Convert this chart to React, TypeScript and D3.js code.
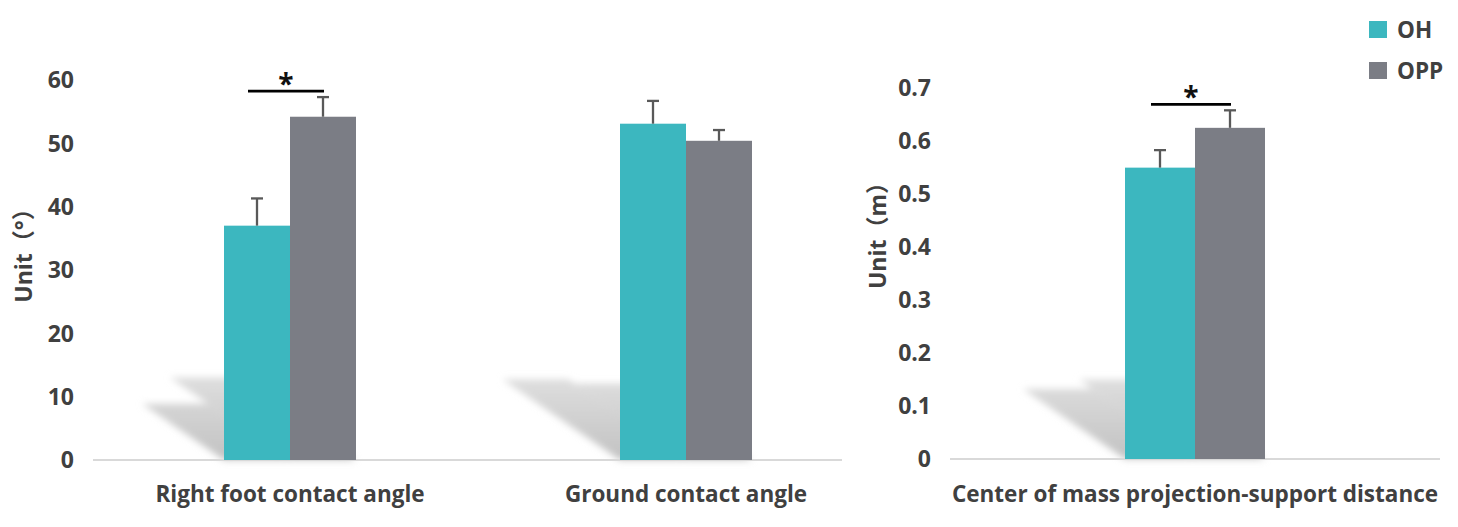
import React from 'react';
import * as d3 from 'd3';

// ---------- data ----------
const seriesNames = ['OH', 'OPP'];
const seriesColors = ['#3cb7bf', '#7b7d85'];

const leftCategories = ['Right foot contact angle', 'Ground contact angle'];
const leftOH = [37.0, 53.1];
const leftOHErr = [4.3, 3.6];
const leftOPP = [54.2, 50.4];
const leftOPPErr = [3.1, 1.7];
const leftSignificant = [true, false];
const leftTicks = [0, 10, 20, 30, 40, 50, 60];
const leftTitle = 'Unit（°）';

const rightCategories = ['Center of mass projection-support distance'];
const rightOH = [0.549];
const rightOHErr = [0.033];
const rightOPP = [0.624];
const rightOPPErr = [0.033];
const rightSignificant = [true];
const rightTicks = [0, 0.1, 0.2, 0.3, 0.4, 0.5, 0.6, 0.7];
const rightTitle = 'Unit（m）';

const FONT = "'Open Sans', 'Noto Sans CJK SC', sans-serif";
const TITLE_FONT = "'Open Sans', 'Noto Sans CJK SC', sans-serif";
const TEXT = '#404040';

type PanelProps = {
  id: string;
  categories: string[];
  values: number[][];
  errors: number[][];
  significant: boolean[];
  ticks: number[];
  yMax: number;
  yTop: number;
  yBase: number;
  xBand: [number, number];
  baseline: [number, number];
  barWidth: number;
  tickX: number;
  title: string;
  titleX: number;
  titleY: number;
};

function Panel(p: PanelProps) {
  const y = d3.scaleLinear().domain([0, p.yMax]).range([p.yBase, p.yTop]);
  const x0 = d3.scaleBand<string>().domain(p.categories).range(p.xBand).padding(0);
  const step = x0.bandwidth();
  const x1 = d3
    .scaleBand<string>()
    .domain(seriesNames)
    .range([step / 2 - p.barWidth, step / 2 + p.barWidth]);
  const bw = x1.bandwidth();
  const kx = 0.35;
  const ky = 0.24;

  return (
    <g>
      <defs>
        <filter id={`blur-${p.id}`} x="-20%" y="-20%" width="140%" height="140%">
          <feGaussianBlur stdDeviation="3.5" />
        </filter>
      </defs>
      {/* perspective shadows */}
      {p.categories.map((c, ci) => {
        const maxH = d3.max(p.values.map((v) => p.yBase - y(v[ci]))) as number;
        const gid = `grad-${p.id}-${ci}`;
        return (
          <g key={`sh-${c}`}>
            <defs>
              <linearGradient
                id={gid}
                gradientUnits="userSpaceOnUse"
                x1="0"
                y1={p.yBase}
                x2="0"
                y2={p.yBase - ky * maxH}
              >
                <stop offset="0" stopColor="#c2c2c2" />
                <stop offset="1" stopColor="#dedede" />
              </linearGradient>
            </defs>
            <g filter={`url(#blur-${p.id})`}>
              {seriesNames.map((s, si) => {
                const h = p.yBase - y(p.values[si][ci]);
                const xa = (x0(c) as number) + (x1(s) as number);
                const xb = xa + bw;
                const pts = [
                  [xa, p.yBase],
                  [xa - kx * h, p.yBase - ky * h],
                  [xb - kx * h, p.yBase - ky * h],
                  [xb, p.yBase],
                ];
                return <polygon key={s} points={pts.map((q) => q.join(',')).join(' ')} fill={`url(#${gid})`} />;
              })}
            </g>
          </g>
        );
      })}
      {/* baseline */}
      <line x1={p.baseline[0]} x2={p.baseline[1]} y1={p.yBase} y2={p.yBase} stroke="#d9d9d9" strokeWidth={2.2} />
      {/* bars */}
      {p.categories.map((c, ci) =>
        seriesNames.map((s, si) => {
          const xa = (x0(c) as number) + (x1(s) as number);
          const v = p.values[si][ci];
          return (
            <rect key={`${c}-${s}`} x={xa} y={y(v)} width={bw} height={p.yBase - y(v)} fill={seriesColors[si]} />
          );
        })
      )}
      {/* error bars */}
      {p.categories.map((c, ci) =>
        seriesNames.map((s, si) => {
          const cx = (x0(c) as number) + (x1(s) as number) + bw / 2;
          const v = p.values[si][ci];
          const e = p.errors[si][ci];
          return (
            <g key={`e-${c}-${s}`} stroke="#595959" strokeWidth={2.3}>
              <line x1={cx} x2={cx} y1={y(v)} y2={y(v + e)} />
              <line x1={cx - 6} x2={cx + 6} y1={y(v + e)} y2={y(v + e)} />
            </g>
          );
        })
      )}
      {/* significance */}
      {p.categories.map((c, ci) => {
        if (!p.significant[ci]) return null;
        const top = d3.max(seriesNames.map((_, si) => p.values[si][ci] + p.errors[si][ci])) as number;
        const ly = y(top) - 6;
        const xa = (x0(c) as number) + (x1(seriesNames[0]) as number) + bw / 2 - 9;
        const xb = (x0(c) as number) + (x1(seriesNames[1]) as number) + bw / 2 + 1;
        return (
          <g key={`sig-${c}`}>
            <line x1={xa} x2={xb} y1={ly} y2={ly} stroke="#000" strokeWidth={2.8} />
            <text
              x={(xa + xb) / 2}
              y={ly + 3}
              textAnchor="middle"
              fontFamily={FONT}
              fontWeight={700}
              fontSize={28}
              fill="#111"
            >
              *
            </text>
          </g>
        );
      })}
      {/* ticks */}
      {p.ticks.map((t) => (
        <text
          key={`t-${t}`}
          x={p.tickX}
          y={y(t)}
          dy="0.36em"
          textAnchor="end"
          fontFamily={FONT}
          fontWeight={700}
          fontSize={23}
          fill={TEXT}
        >
          {String(t)}
        </text>
      ))}
      {/* category labels */}
      {p.categories.map((c) => (
        <text
          key={`c-${c}`}
          x={(x0(c) as number) + step / 2}
          y={502}
          textAnchor="middle"
          fontFamily={FONT}
          fontWeight={700}
          fontSize={22.5}
          fill={TEXT}
        >
          {c}
        </text>
      ))}
      {/* y title */}
      <text
        transform={`translate(${p.titleX},${p.titleY}) rotate(-90)`}
        dy="0.36em"
        textAnchor="middle"
        fontFamily={TITLE_FONT}
        fontWeight={700}
        fontSize={23}
        fill={TEXT}
      >
        {p.title}
      </text>
    </g>
  );
}

export default function App() {
  return (
    <svg
      width={1458}
      height={527}
      viewBox="0 0 1458 527"
      style={{ position: 'absolute', left: 0, top: 0, background: '#fff', display: 'block' }}
    >
      <rect width={1458} height={527} fill="#fff" />
      <Panel
        id="left"
        categories={leftCategories}
        values={[leftOH, leftOPP]}
        errors={[leftOHErr, leftOPPErr]}
        significant={leftSignificant}
        ticks={leftTicks}
        yMax={60}
        yTop={80}
        yBase={460}
        xBand={[92, 884]}
        baseline={[93, 842]}
        barWidth={66}
        tickX={74}
        title={leftTitle}
        titleX={24}
        titleY={250}
      />
      <Panel
        id="right"
        categories={rightCategories}
        values={[rightOH, rightOPP]}
        errors={[rightOHErr, rightOPPErr]}
        significant={rightSignificant}
        ticks={rightTicks}
        yMax={0.7}
        yTop={87.5}
        yBase={459}
        xBand={[950, 1440]}
        baseline={[950, 1440]}
        barWidth={70}
        tickX={931}
        title={rightTitle}
        titleX={878}
        titleY={230}
      />
      {/* legend */}
      {seriesNames.map((s, i) => (
        <g key={`lg-${s}`}>
          <rect x={1369} y={21 + i * 41} width={18} height={17} fill={seriesColors[i]} />
          <text x={1397} y={30 + i * 41} dy="0.36em" fontFamily={FONT} fontWeight={700} fontSize={22.5} fill={TEXT}>
            {s}
          </text>
        </g>
      ))}
    </svg>
  );
}
